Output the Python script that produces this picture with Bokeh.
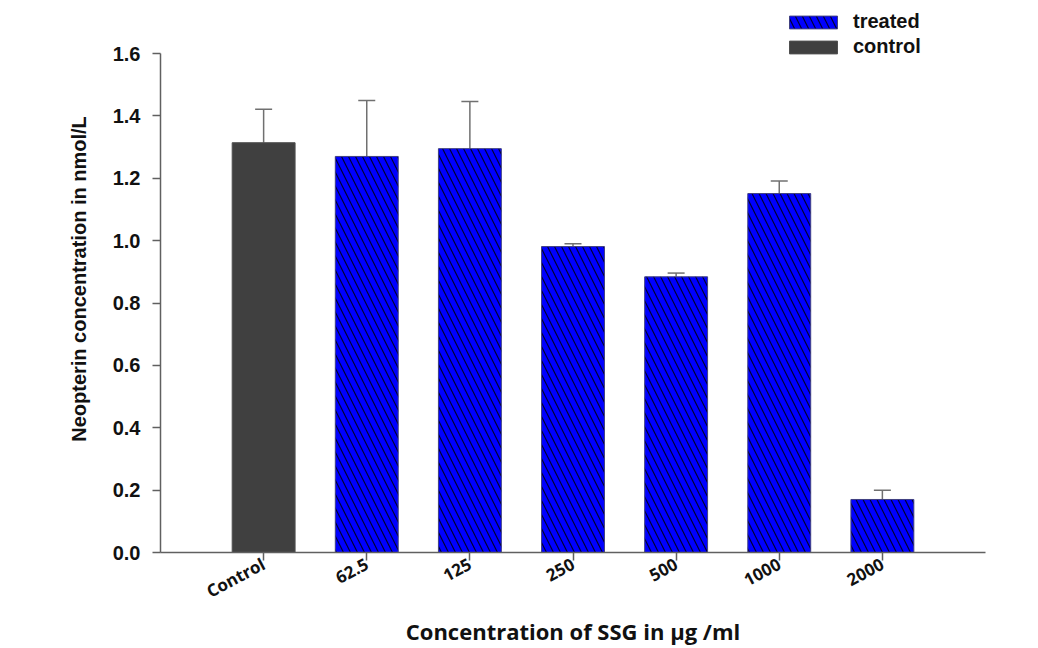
import math
from bokeh.plotting import figure
from bokeh.models import (ColumnDataSource, Range1d, FactorRange, Whisker, TeeHead,
                          Legend, LegendItem)
from bokeh.embed import file_html
from bokeh.resources import INLINE

categories = ["Control", "62.5", "125", "250", "500", "1000", "2000"]
means = [1.314, 1.270, 1.295, 0.981, 0.884, 1.151, 0.170]
errors = [0.107, 0.179, 0.151, 0.009, 0.012, 0.040, 0.030]
groups = ["control", "treated", "treated", "treated", "treated", "treated", "treated"]
y_ticks = [0.0, 0.2, 0.4, 0.6, 0.8, 1.0, 1.2, 1.4, 1.6]

ctrl_idx = [i for i, g in enumerate(groups) if g == "control"]
trt_idx = [i for i, g in enumerate(groups) if g == "treated"]

src_ctrl = ColumnDataSource(dict(x=[categories[i] for i in ctrl_idx], top=[means[i] for i in ctrl_idx]))
src_trt = ColumnDataSource(dict(x=[categories[i] for i in trt_idx], top=[means[i] for i in trt_idx]))
src_err = ColumnDataSource(dict(x=categories, lower=means,
                                upper=[m + e for m, e in zip(means, errors)]))

p = figure(width=1038, height=648, output_backend="svg", toolbar_location=None,
           x_range=FactorRange(factors=categories, range_padding=0.5, range_padding_units="absolute"),
           y_range=Range1d(0, 1.754),
           min_border_left=160, min_border_right=53, min_border_top=5, min_border_bottom=86)
p.outline_line_color = None
p.grid.visible = False

r_ctrl = p.vbar(x="x", top="top", width=0.61, source=src_ctrl,
                fill_color="#404040", line_color="#505050", line_width=1)
r_trt = p.vbar(x="x", top="top", width=0.61, source=src_trt,
               fill_color="#0000ff", line_color="#404080", line_width=1,
               hatch_pattern="\\", hatch_color="#000030", hatch_scale=14, hatch_weight=1.2)

w = Whisker(source=src_err, base="x", lower="lower", upper="upper",
            line_color="#707070", line_width=1.5,
            upper_head=TeeHead(size=17, line_color="#707070", line_width=1.5),
            lower_head=None)
p.add_layout(w)

ax_font = "Liberation Sans"
p.yaxis.ticker = y_ticks
p.yaxis.bounds = (0, 1.6)
p.yaxis.major_label_overrides = {t: f"{t:.1f}" for t in y_ticks}
for ax in (p.xaxis[0], p.yaxis[0]):
    ax.axis_line_color = "#606060"
    ax.axis_line_width = 1.5
    ax.major_tick_line_color = "#606060"
    ax.major_tick_line_width = 1.5
    ax.major_tick_out = 8
    ax.major_tick_in = 0
    ax.minor_tick_line_color = None
    ax.major_label_text_color = "#111111"
    ax.axis_label_text_color = "#111111"
    ax.axis_label_text_font_style = "bold"
    ax.major_label_text_font_style = "bold"

p.yaxis.major_label_text_font = ax_font
p.yaxis.major_label_text_font_size = "20px"
p.yaxis.major_label_standoff = 12
p.yaxis.axis_label = "Neopterin concentration in nmol/L"
p.yaxis.axis_label_text_font = ax_font
p.yaxis.axis_label_text_font_size = "20px"
p.yaxis.axis_label_standoff = 20

p.xaxis.major_label_text_font = "Open Sans"
p.xaxis.major_label_text_font_size = "17px"
p.xaxis.major_label_orientation = math.radians(28)
p.xaxis.major_label_standoff = 2
p.xaxis.axis_label = "Concentration of SSG in \u00b5g /ml"
p.xaxis.axis_label_text_font = "Open Sans"
p.xaxis.axis_label_text_font_size = "22px"
p.xaxis.axis_label_standoff = 0

legend = Legend(items=[LegendItem(label="treated", renderers=[r_trt]),
                       LegendItem(label="control", renderers=[r_ctrl])],
                location=(623, 494), orientation="vertical",
                glyph_width=60, glyph_height=16, label_height=16, spacing=2,
                padding=0, margin=0, label_standoff=10,
                border_line_color=None, background_fill_alpha=0,
                label_text_font=ax_font, label_text_font_style="bold",
                label_text_font_size="20px", label_text_color="#111111")
p.add_layout(legend, "center")

open("out.html", "w").write(file_html(p, INLINE))
